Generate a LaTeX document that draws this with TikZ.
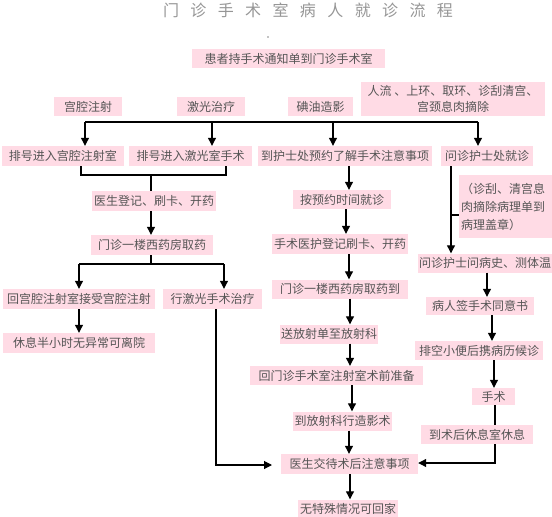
\documentclass[tikz,border=0pt]{standalone}
\usepackage{fontspec}
\setmainfont{Noto Sans CJK SC}
\usetikzlibrary{arrows.meta}
\definecolor{pk}{RGB}{255,219,229}
\definecolor{tx}{RGB}{85,85,85}
\definecolor{ttl}{RGB}{150,150,150}
\tikzset{
  bx/.style={fill=pk,inner sep=0pt,text=tx,font=\fontsize{12}{15}\selectfont},
  ln/.style={line width=1.1pt,black},
  arr/.style={ln,-{Triangle[width=8pt,length=8pt]}}
}
\newcommand\bx[6]{\node[bx,minimum width=#4pt,minimum height=#5pt] (#1) at (#2,#3) {#6};}
\begin{document}
\begin{tikzpicture}[x=1pt,y=-1pt]
\useasboundingbox (0,0) rectangle (552,517);
\def\tg{\hspace{11.4pt}}
\node[text=ttl,font=\fontsize{16}{18}\selectfont,inner sep=0pt] (title) at (308,10) {门\tg 诊\tg 手\tg 术\tg 室\tg 病\tg 人\tg 就\tg 诊\tg 流\tg 程};
\fill[black] (268,37) circle (0.7pt);
\bx{n0}{288.5}{58.5}{193}{19}{患者持手术通知单到门诊手术室}
\bx{a1}{88}{106.5}{68}{19}{宫腔注射}
\bx{a2}{211}{106.5}{68}{19}{激光治疗}
\bx{a3}{320.5}{106.5}{65}{19}{碘油造影}
\node[bx,minimum width=184pt,minimum height=34pt,align=center,font=\fontsize{12}{15.5}\selectfont] (a4) at (453,99) {人流 、上环、取环、诊刮清宫、\\宫颈息肉摘除};
\bx{b1}{63}{156}{122}{20}{排号进入宫腔注射室}
\bx{b2}{190.5}{156}{123}{20}{排号进入激光室手术}
\bx{b3}{345}{156}{174}{20}{到护士处预约了解手术注意事项}
\bx{b4}{487}{156}{92}{20}{问诊护士处就诊}
\bx{c1}{154}{201}{124}{20}{医生登记、刷卡、开药}
\bx{c2}{152}{245}{122}{20}{门诊一楼西药房取药}
\bx{d1}{79}{299}{152}{20}{回宫腔注射室接受宫腔注射}
\bx{d2}{212.5}{299}{99}{20}{行激光手术治疗}
\bx{d3}{79}{343}{152}{20}{休息半小时无异常可离院}
\bx{e1}{342}{199.5}{98}{19}{按预约时间就诊}
\bx{e2}{340}{244}{136}{20}{手术医护登记刷卡、开药}
\bx{e3}{340}{289}{136}{19}{门诊一楼西药房取药到}
\bx{e4}{329}{334}{98}{19}{送放射单至放射科}
\bx{e5}{336.5}{375.5}{173}{19}{回门诊手术室注射室术前准备}
\bx{e6}{342.5}{421}{99}{19}{到放射科行造影术}
\bx{e7}{349.5}{464}{137}{20}{医生交待术后注意事项}
\bx{e8}{348}{508.5}{100}{18}{无特殊情况可回家}
\bx{f1}{485}{263}{134}{19}{问诊护士问病史、测体温}
\node[bx,minimum width=93pt,minimum height=63pt,text width=89pt,align=left,font=\fontsize{12}{18}\selectfont] (note) at (505.5,206.5) {（诊刮、清宫息\\肉摘除病理单到\\病理盖章）};
\bx{f2}{480}{306}{108}{18}{病人签手术同意书}
\bx{f3}{479}{350.5}{128}{19}{排空小便后携病历候诊}
\bx{f4}{493.5}{396.5}{43}{17}{手术}
\bx{f5}{477}{434.5}{112}{19}{到术后休息室休息}
% top distribution line
\coordinate (t1) at (85,122);
\coordinate (t2) at (212,122);
\coordinate (t3) at (333,122);
\coordinate (t4) at (478,122);
\draw[ln] (t1) -- (t4);
\draw[arr] (t1) -- (t1 |- b1.north);
\draw[arr] (t2) -- (t2 |- b2.north);
\draw[arr] (t3) -- (t3 |- b3.north);
\draw[arr] (t4) -- (t4 |- b4.north);
% left branch
\coordinate (k1) at (81,175);
\coordinate (k2) at (226,175);
\coordinate (k3) at (151,175);
\draw[ln] (k1 |- b1.south) -- (k1) -- (k2) -- (k2 |- b2.south);
\draw[ln] (k3) -- (k3 |- c1.north);
\draw[arr] (c1.south -| k3) -- (c2.north -| k3);
\coordinate (m1) at (79,264);
\coordinate (m2) at (224,264);
\coordinate (m3) at (151,264);
\draw[ln] (c2.south -| m3) -- (m3);
\draw[ln] (m1) -- (m2);
\draw[arr] (m1) -- (m1 |- d1.north);
\draw[arr] (m2) -- (m2 |- d2.north);
\draw[arr] (d1.south -| m1) -- (d3.north -| m1);
\coordinate (q1) at (216,465);
\coordinate (q2) at (272,465);
\draw[arr] (d2.south -| q1) -- (q1) -- (q2);
% middle column
\coordinate (x1) at (349,0);
\coordinate (x2) at (346,0);
\coordinate (x3) at (350,0);
\coordinate (x4) at (352,0);
\draw[arr] (b3.south -| x1) -- (e1.north -| x1);
\draw[arr] (e1.south -| x2) -- (e2.north -| x2);
\draw[arr] (e2.south -| x1) -- (e3.north -| x1);
\draw[arr] (e3.south -| x3) -- (e4.north -| x3);
\draw[arr] (e4.south -| x3) -- (e5.north -| x3);
\draw[arr] (e5.south -| x4) -- (e6.north -| x4);
\draw[arr] (e6.south -| x1) -- (e7.north -| x1);
\draw[arr] (e7.south -| x3) -- (e8.north -| x3);
% right column
\coordinate (r1) at (451,0);
\coordinate (rn) at (451,215);
\draw[arr] (b4.south -| r1) -- (f1.north -| r1);
\draw[ln] (rn) -- (rn -| note.west);
\coordinate (y1) at (487,0);
\coordinate (y2) at (492,0);
\coordinate (y3) at (494,0);
\coordinate (y4) at (495,0);
\draw[arr] (f1.south -| y1) -- (f2.north -| y1);
\draw[arr] (f2.south -| y2) -- (f3.north -| y2);
\draw[arr] (f3.south -| y3) -- (f4.north -| y3);
\draw[ln] (f4.south -| y4) -- (f5.north -| y4);
\coordinate (s1) at (495,463);
\draw[arr] (f5.south -| s1) -- (s1) -- (s1 -| e7.east);
\end{tikzpicture}
\end{document}
